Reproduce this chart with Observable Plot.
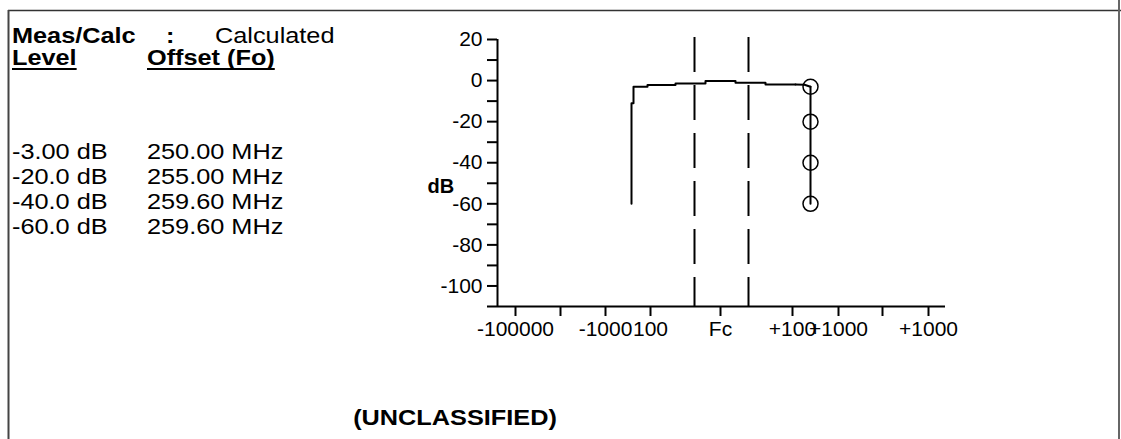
<!DOCTYPE html>
<html>
<head>
<meta charset="utf-8">
<script src="https://cdn.jsdelivr.net/npm/d3@7"></script>
<script src="https://cdn.jsdelivr.net/npm/@observablehq/plot@0.6"></script>
<style>
  html, body { margin: 0; padding: 0; background: #fff; }
  #wrap { position: relative; width: 1121px; height: 439px; overflow: hidden; background: #fff;
          font-family: Arial, "Liberation Sans", sans-serif; }
  #chart { position: absolute; left: 0; top: 0; }
  #overlay { position: absolute; left: 0; top: 0; }
</style>
</head>
<body>
<div id="wrap">
  <div id="chart"></div>
  <svg id="overlay" width="1121" height="439"></svg>
</div>
<script>
// ---- data ----
// x is an offset position along the (non-uniform) frequency-offset axis, Fc = 0
const xTickPos    = [-205, -160, -115, -70, 0, 72, 118, 162, 208];
const xTickLabels = ["-100000", "", "-1000", "100", "Fc", "+100", "+1000", "", "+1000"];
const yTicks      = [20, 10, 0, -10, -20, -30, -40, -50, -60, -70, -80, -90, -100];
const passbandX   = [-26, 28];               // dashed channel edges
// traced response curve (step plateau)
const curveX  = [-89, -89, -87, -73, -45, -15, 15, 45, 75];
const curveDb = [-60, -11, -3, -2.2, -1.4, -0.2, -1.1, -1.9, -1.9];
const tailX   = [75, 84, 90];
const tailDb  = [-1.9, -2.0, -3];
// calculated level points
const markerX  = [90, 90, 90, 90];
const markerDb = [-3, -20, -40, -60];
// side table
const levelLabels  = ["-3.00 dB", "-20.0 dB", "-40.0 dB", "-60.0 dB"];
const offsetLabels = ["250.00 MHz", "255.00 MHz", "259.60 MHz", "259.60 MHz"];
const measCalc = "Calculated";
const classification = "(UNCLASSIFIED)";

const curve  = curveX.map((x, i) => ({x, db: curveDb[i]}));
const tail   = tailX.map((x, i) => ({x, db: tailDb[i]}));
const marker = markerX.map((x, i) => ({x, db: markerDb[i]}));
const xLabelMap = new Map(xTickPos.map((p, i) => [p, xTickLabels[i]]));

const chart = Plot.plot({
  width: 1121,
  height: 439,
  marginLeft: 497,
  marginRight: 176,
  marginTop: 39,
  marginBottom: 133,
  x: {domain: [-223, 225]},
  y: {domain: [-110, 20]},
  style: {fontFamily: "Arial, 'Liberation Sans', sans-serif", fontSize: "21px", color: "#000", background: "transparent", overflow: "visible"},
  marks: [
    Plot.axisY({ticks: yTicks, tickSize: 10, tickPadding: 5, strokeWidth: 2, label: null, fontSize: 21,
                tickFormat: d => d % 20 === 0 ? String(d) : ""}),
    Plot.axisX({ticks: xTickPos, tickSize: 10, tickPadding: 5, strokeWidth: 2, label: null, fontSize: 21,
                tickFormat: d => xLabelMap.get(d)}),
    Plot.ruleX([-223], {y1: -110, y2: 20, stroke: "#000", strokeWidth: 2}),
    Plot.ruleY([-110], {x1: -233, x2: 225, stroke: "#000", strokeWidth: 2}),
    Plot.ruleX(passbandX, {x: d => d, y1: 21, y2: -110, stroke: "#000", strokeWidth: 2, strokeDasharray: "35,13"}),
    Plot.line(curve, {x: "x", y: "db", curve: "step-after", stroke: "#000", strokeWidth: 2}),
    Plot.line(tail, {x: "x", y: "db", stroke: "#000", strokeWidth: 2}),
    Plot.line(marker, {x: "x", y: "db", stroke: "#000", strokeWidth: 2}),
    Plot.dot(marker, {x: "x", y: "db", r: 7.5, stroke: "#000", strokeWidth: 1.5, fill: "none"}),
    Plot.text(["dB"], {x: -223, y: -50, dx: -70, dy: 3, text: d => d, fontWeight: "bold", fontSize: 20, textAnchor: "start"})
  ]
});
document.getElementById("chart").appendChild(chart);

// ---- overlay: border and side texts ----
const svg = d3.select("#overlay");
const font = "Arial, 'Liberation Sans', sans-serif";
const SX = 1.15;   // the reference text is rendered horizontally wide
svg.append("line").attr("x1", 8).attr("x2", 1121).attr("y1", 10.5).attr("y2", 10.5).attr("stroke", "#333").attr("stroke-width", 1.5);
svg.append("line").attr("x1", 8.5).attr("x2", 8.5).attr("y1", 10).attr("y2", 439).attr("stroke", "#444").attr("stroke-width", 2);
svg.append("line").attr("x1", 1119).attr("x2", 1119).attr("y1", 0).attr("y2", 439).attr("stroke", "#666").attr("stroke-width", 2);

function txt(x, y, s, bold, anchor) {
  return svg.append("text").attr("x", 0).attr("y", 0)
    .attr("transform", `translate(${x},${y}) scale(${SX},1)`)
    .attr("font-family", font)
    .attr("font-size", 22).attr("font-weight", bold ? "bold" : "normal")
    .attr("text-anchor", anchor || "start").attr("fill", "#000").text(s);
}
txt(12, 43, "Meas/Calc", true);
txt(166, 43, ":", true);
txt(215, 43, measCalc, false);
const lv = txt(12, 65, "Level", true);
const of = txt(147, 65, "Offset (Fo)", true);
[[lv, 12], [of, 147]].forEach(([t, x]) => {
  const w = t.node().getComputedTextLength() * SX;
  svg.append("line").attr("x1", x).attr("x2", x + w).attr("y1", 69).attr("y2", 69).attr("stroke", "#000").attr("stroke-width", 2);
});
levelLabels.forEach((s, i) => {
  txt(12, 159 + i * 25, s, false);
  txt(147, 159 + i * 25, offsetLabels[i], false);
});
txt(455, 425, classification, true, "middle");
</script>
</body>
</html>
